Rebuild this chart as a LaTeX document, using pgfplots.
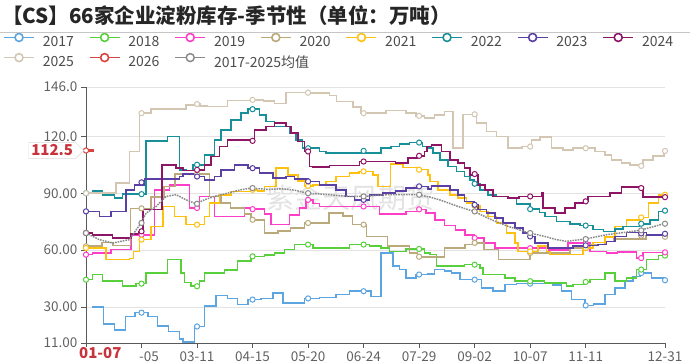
\documentclass[border=0pt]{standalone}
\usepackage{fontspec}
\setmainfont{Noto Sans CJK SC}
\usepackage{pgfplots}
\pgfplotsset{compat=1.18}
\usetikzlibrary{shapes.symbols}
\definecolor{c17}{HTML}{5DA5E0}
\definecolor{c18}{HTML}{57D03C}
\definecolor{c19}{HTML}{FF3EC8}
\definecolor{c20}{HTML}{B9A97B}
\definecolor{c21}{HTML}{FFC10F}
\definecolor{c22}{HTML}{17909A}
\definecolor{c23}{HTML}{5A40A5}
\definecolor{c24}{HTML}{8E1565}
\definecolor{c25}{HTML}{D3C6B3}
\definecolor{c26}{HTML}{D64541}
\definecolor{cav}{HTML}{8A8A8A}
\definecolor{redlab}{HTML}{C8323A}
\begin{document}
\begin{tikzpicture}[x=1pt,y=1pt]
\begin{axis}[
  at={(0,0)}, anchor=south west,
  scale only axis, width=579pt, height=256pt,
  xmin=0, xmax=365, ymin=11, ymax=146,
  axis lines*=left,
  axis line style={color=black!65, line width=0.8pt},
  tick align=outside, major tick length=5pt,
  tick style={color=black!65, line width=0.8pt},
  ytick={11,30,60,90,120,146},
  yticklabels={11.00,30.00,60.00,90.00,120.0,146.0},
  xtick={0,35,70,105,140,175,210,245,280,315,365},
  xticklabels={,\phantom{02}-05,03-11,04-15,05-20,06-24,07-29,09-02,10-07,11-11,12-31},
  ymajorgrids, grid style={color=gray!22, line width=0.8pt},
  tick label style={font=\fontsize{13.5}{14}\selectfont, text=black!62},
  legend columns=8,
  legend style={at={(axis description cs:-0.1433,1.213)}, anchor=north west,
    draw=none, fill=none, inner sep=0pt, font=\fontsize{14}{16}\selectfont, text=black!70,
    nodes={inner sep=0pt},
    /tikz/every odd column/.append style={column sep=8pt},
    /tikz/every even column/.append style={column sep=13pt},
    row sep=5pt},
  legend image code/.code={\draw[#1,mark=none,solid] (0pt,4.5pt) -- (30pt,4.5pt); \draw[#1,solid,fill=white,mark=none] (15pt,4.5pt) circle (4pt);},
  every axis plot/.append style={line width=1.6pt},
  mk/.style={only marks, mark=*, mark size=2.6pt, mark options={fill=white, line width=1pt}, forget plot},
]
\node[font=\fontsize{28}{30}\selectfont, text=gray!22] at (axis cs:166.8,87.6) {紫金天风期货};
% 2017
\addplot[c17, const plot] coordinates {(4,30) (11,21) (18,18) (25,25) (31,27) (39,25) (45,20) (52,17) (59,13) (61,11.5) (68.3,19.7) (74.6,30.4) (82,36) (89.3,34.5) (95.6,31.3) (102,33.9) (110.4,34.5) (117.7,37.4) (124,32.2) (137.7,34.5) (147.2,35) (157.7,36.5) (166,38.3) (179.8,35.5) (186.1,58.5) (193.5,51.5) (197.7,49.7) (201.9,45.3) (208.2,47.1) (215.6,47.5) (219.8,49.7) (226,49) (230.3,48) (235.6,44.4) (249.3,40) (256.6,38.3) (264,41.8) (271.3,42.3) (294.5,41.5) (299.8,38.3) (306.1,33.9) (314.5,30.8) (320,31.5) (327.1,36.5) (333.4,40) (339.7,43.6) (345,46) (349.2,47.9) (356.5,45.3) (365,44.1)};
\addlegendentry{\makebox[33pt][l]{2017}}
% 2018
\addplot[c18, const plot] coordinates {(0,44.4) (4.2,47.1) (10.5,43.6) (23.1,40.9) (31.6,42.3) (37.9,47.9) (51.5,55) (60,47.9) (62,43) (66.3,40.9) (71.5,43.6) (74.6,47.9) (87.2,49.5) (95.6,54.1) (104,56.7) (112.5,57.5) (118.8,58.5) (125.1,60.2) (131.4,62.9) (143,61.1) (166.1,62.9) (178.8,62) (186.1,61.1) (191.4,59.3) (201.9,60.6) (213.5,58.5) (217,57.6) (220.9,51.5) (238.7,52.3) (248.2,50.5) (250.3,47.1) (264,45.3) (270.3,43.6) (289,42.7) (302.9,40.9) (307.1,41.8) (314,43.2) (317.6,44.4) (327.1,47.9) (333.4,43.6) (340.8,45.3) (347.1,49.7) (353.4,55) (360.8,57.1) (365,57.1)};
\addlegendentry{\makebox[33pt][l]{2018}}
% 2019
\addplot[c19, const plot] coordinates {(0,57.6) (4.2,58.5) (15.8,60.2) (28.4,68.1) (43.1,91.8) (52.6,94.4) (65.2,82.2) (71.5,88.3) (80.9,77.8) (99.8,82.2) (104,81.6) (112.5,79) (116.7,73.4) (128.2,78.6) (134.5,82.2) (138.7,86.5) (143,84.5) (147.2,83) (185.1,79) (201.9,80.4) (209,81.5) (214.5,79.5) (220,76) (226,73) (233,70.5) (239,68) (244.6,66.4) (251,63.7) (258,61) (280,61) (292,60) (304,63.7) (317.6,59.3) (328.2,58.5) (335,59) (347.1,55.8) (351.3,58.8) (365,58.8)};
\addlegendentry{\makebox[33pt][l]{2019}}
% 2020
\addplot[c20, const plot] coordinates {(0,62) (10,64) (17,62.5) (28,82) (41,88) (49,93.6) (56,100) (77.8,88.3) (85,84.8) (91,82.2) (100,79) (104,76) (112.5,69) (121,70) (129,71.6) (137.7,74.3) (153,79.5) (162,78) (168,73.4) (176.7,67.2) (190,62) (204,58.6) (209,56.5) (226,61.2) (239,62.9) (244,63.8) (251,60.3) (260,55) (280,58.5) (305,61) (318,62.9) (327,64.5) (333,65.8) (353,67.6) (365,67)};
\addlegendentry{\makebox[33pt][l]{2020}}
% 2021
\addplot[c21, const plot] coordinates {(0,61.1) (12.6,55) (27.3,55.5) (30,59.3) (33.7,65.5) (41,72.5) (48.4,83) (55.7,77.8) (63.1,73.4) (74.6,77.8) (77.8,84.8) (84.1,89.2) (91.4,90.9) (104,91.8) (108,91) (112.5,93.6) (119.8,103.2) (127.2,99.7) (133.5,96.5) (137.7,93.9) (143,94.4) (151.4,96.2) (157.7,98.8) (166.1,100.6) (172,101.5) (180.9,99.7) (184,93.6) (192,105.5) (200,103.5) (209,102.4) (215.6,99.7) (217,96.2) (222,91.8) (229.3,89.2) (234.5,87.4) (239.8,84.8) (244.6,83.4) (248.2,80.4) (253.5,77.8) (258.7,74.3) (265,69) (270.3,63.7) (272.4,59.3) (285,62) (290.3,59.3) (292.4,57.6) (313.4,61.1) (319.7,64.1) (327.1,67) (333.4,72.5) (340.8,76) (349.2,77.2) (354.5,84.8) (360.8,89.2) (365,89.2)};
\addlegendentry{\makebox[33pt][l]{2021}}
% 2022
\addplot[c22, const plot] coordinates {(0,90) (4.2,91) (10.5,89.2) (17.9,87.4) (23.1,89.5) (37.9,117.6) (51.5,119.9) (58.9,102.3) (63.1,102) (67.3,105) (74.6,110.2) (80.9,118.1) (85.1,123.4) (91.4,128.6) (97.7,132.2) (102,134.3) (109.3,131.3) (113.5,127.8) (118.8,125.1) (128.2,121.6) (132.4,118.1) (136.6,113.7) (147.2,112) (151.4,111.1) (186.1,113.7) (192.4,114.6) (197.7,116) (204,116.7) (212,114.6) (215.6,113.7) (218.8,111.1) (223,107.6) (228.2,104.1) (233.5,101.5) (238.7,98.8) (241.9,97.1) (244.6,95) (248.2,91.8) (253.5,89.2) (258.7,88.3) (266.1,87.4) (271.3,84.4) (280,81.6) (286,79.9) (289.3,77.8) (296.6,75.1) (305,73.9) (311.3,72.9) (319.7,70.8) (326.1,69.9) (333.4,71.1) (338.7,72.5) (349,73.9) (355.5,76) (360.8,80.4) (365,80.8)};
\addlegendentry{\makebox[33pt][l]{2022}}
% 2023
\addplot[c23, const plot] coordinates {(0,80.4) (8.4,77.8) (15.8,80.4) (25.2,91.8) (30.5,94.4) (36.8,97.4) (58.9,98.8) (61,100) (68.3,98.8) (74.6,97.1) (80.9,98.8) (85.1,102.3) (93.5,105) (102,103.2) (109.3,100.6) (117.7,98) (126,98.8) (131.4,97.4) (139.8,96.2) (147.2,94.4) (157.7,91.8) (164,88.3) (169.3,86.5) (178.8,89.2) (187.2,90) (195,91) (201.9,92.7) (209,93.6) (215.6,92.3) (217.7,93.9) (229.3,91.8) (234.5,89.2) (238.7,85.7) (244.6,83.9) (247.1,81.3) (252.4,79.5) (257.7,76.9) (262.9,74.3) (270.3,71.6) (275.5,69) (280,67.2) (282.9,63.7) (291.4,61.1) (307.1,62) (314,62.5) (322.9,62.9) (328.2,64.6) (333.4,67.2) (340.8,69.3) (353.4,68.1) (365,68.6)};
\addlegendentry{\makebox[33pt][l]{2023}}
% 2024
\addplot[c24, const plot] coordinates {(0,69) (4.2,68.1) (16.8,66.4) (28.4,68.6) (33,69.9) (35.8,81.3) (48,105) (56.8,103.2) (61,102) (68.3,102.3) (74.6,105) (78.8,109.3) (84.1,114.6) (89.3,118.1) (104,117.6) (106.2,123.4) (113.5,125.1) (118.8,126.9) (126.1,125.1) (129.3,121.6) (133.5,117.2) (137.7,112) (140.9,104.1) (143,103.7) (153.5,104.5) (172.4,106.7) (195,106) (203,108.5) (209,109.7) (213.5,112) (215,114.6) (217.7,115.5) (224,112) (229.3,107.6) (234.5,105.8) (238.7,103.2) (241.9,99.7) (247.1,94.4) (251.4,91.8) (256.6,88.3) (266,87.4) (273,88.3) (287.1,90) (288.2,82.2) (295.6,79.5) (301.9,82.2) (308.2,84.8) (314,85.7) (316.6,88.3) (330.3,90) (337.6,93.2) (351.3,87.9) (365,87.9)};
\addlegendentry{\makebox[33pt][l]{2024}}
% 2025
\addplot[c25, const plot] coordinates {(0,90) (19,95.3) (27.3,112) (33.7,132.2) (41,134.3) (63,136.5) (68.3,137.4) (72,136) (76.7,135.7) (89.3,138.8) (104,139.2) (112,138.5) (118.8,137.4) (126.1,143) (140.9,142.7) (153.5,141.5) (158,138.3) (168.2,135.5) (173.5,132.2) (189.3,133.6) (201.9,132.2) (208.2,130.8) (213.5,129.5) (219.8,131.3) (226.1,133) (231.4,113.7) (237.7,131.6) (246.1,126.9) (252.4,122.5) (258.7,119.9) (266.1,113.7) (275,114.6) (280.8,118.1) (286.1,119.5) (293.5,113.7) (300.8,112.9) (307.1,113.7) (320.8,112) (327.1,110.2) (331.3,107.6) (337.6,105.8) (342.9,105) (349.2,104.4) (351.3,107.6) (357.6,109.7) (364.3,112.3) (365,112.3)};
\addlegendentry{\makebox[33pt][l]{2025}}
% 2026
\addplot[c26, const plot, line width=3pt, legend image post style={line width=1.6pt}] coordinates {(0,112.5) (5,112.5)};
\addlegendentry{\makebox[33pt][l]{2026}}
% average
\addplot[cav, densely dotted, line width=1.5pt, legend image post style={solid}] coordinates {(0,69) (8.4,65.5) (16.8,63.7) (27.3,65.5) (34.7,74.3) (37.9,79.5) (44.2,83) (50.5,88.3) (56.8,89.2) (63.1,86.5) (69.4,84.4) (74.6,86.5) (80.9,88.3) (89.3,90) (97.7,91.8) (104,92.7) (114.6,92) (123,92.3) (131.4,91.6) (139.8,90) (153.5,89.2) (166.1,88.3) (174.5,88.3) (189.3,89.2) (209.3,89.2) (216.6,88) (224,86.2) (234.5,83) (244.6,80.4) (255.6,76) (266.1,72.5) (279.7,69) (289.2,67.2) (296.6,65.5) (302.9,64.6) (314.5,65.8) (328.2,68.1) (349.2,70.4) (364.3,73.9)};
\addlegendentry{\makebox[33pt][l]{2017-2025均值}}
% marks
\addplot[c17, mk] coordinates {(35,27) (70,19.7) (105,33.9) (140,34.5) (175,38.3) (210,47.1) (245,44.4) (280,42.3) (315,30.8) (350,47.9) (365,44.1)};
\addplot[c18, mk] coordinates {(0,44.4) (35,42.3) (70,40.9) (105,56.7) (140,62.9) (175,62.9) (210,60.6) (245,52.3) (280,43.6) (315,43.2) (350,49.7) (365,57.1)};
\addplot[c19, mk] coordinates {(0,57.6) (35,68.1) (70,82.2) (105,81.6) (140,86.5) (175,83) (210,81.5) (245,66.4) (280,61) (315,63.7) (350,55.8) (365,58.8)};
\addplot[c20, mk] coordinates {(0,62) (35,82) (70,100) (105,76) (140,74.3) (175,73.4) (210,56.5) (245,63.8) (280,58.5) (315,61) (350,67.6) (365,67)};
\addplot[c21, mk] coordinates {(0,61.1) (35,65.5) (70,73.4) (105,91.8) (140,93.9) (175,101.5) (210,102.4) (245,83.4) (280,59.3) (315,61.1) (350,77.2) (365,89.2)};
\addplot[c22, mk] coordinates {(0,90) (35,89.5) (70,105) (105,134.3) (140,113.7) (175,112.3) (210,116.7) (245,95) (280,81.6) (315,72.9) (350,73.9) (365,80.8)};
\addplot[c23, mk] coordinates {(0,80.4) (35,95.7) (70,98.8) (105,103.2) (140,96.2) (175,86.5) (210,93.6) (245,83.9) (280,67.2) (315,62.5) (350,68.8) (365,68.6)};
\addplot[c24, mk] coordinates {(0,69) (35,69.9) (70,102.3) (105,117.6) (140,112) (175,106.7) (210,109.7) (245,100.1) (280,88.3) (315,85.7) (350,92.7) (365,87.9)};
\addplot[c25, mk] coordinates {(0,90) (35,132.2) (70,137) (105,139.2) (140,143) (175,132.2) (210,130.8) (245,131.6) (280,114.6) (315,113.7) (350,104.4) (365,112.3)};
\addplot[c26, mk] coordinates {(0,112.5)};
\addplot[cav, mk] coordinates {(0,69) (35,74.3) (70,84.4) (105,92.7) (140,90) (175,88.3) (210,89.2) (245,80.4) (280,69) (315,65.8) (350,70.4) (365,73.9)};
\coordinate (O) at (axis description cs:0,0);
\coordinate (lab0107) at (axis cs:9,11);
\coordinate (lab1125) at (axis cs:0,112.5);
\end{axis}
\pgfresetboundingbox
\begin{scope}[shift={(O)}]
\begin{scope}[shift={(-86,-20)}]
\useasboundingbox (0,0) rectangle (690,363);
\node[anchor=west, font=\fontsize{20.5}{22}\selectfont\bfseries, text=black!85, inner sep=0pt] at (2,347) {【CS】66家企业淀粉库存-季节性（单位：万吨）};
\draw[gray!45, line width=0.8pt] (0,331) -- (690,331);
\end{scope}
\end{scope}
\node[anchor=north, yshift=-3.5pt, fill=white, inner sep=1pt, font=\fontsize{15}{16}\selectfont\bfseries, text=redlab] at (lab0107) {01-07};
\node[signal, signal to=east, draw=gray!30, fill=white, anchor=east, xshift=-2pt, inner sep=2.5pt, font=\fontsize{15}{16}\selectfont\bfseries, text=redlab] at (lab1125) {112.5};
\end{tikzpicture}
\end{document}
